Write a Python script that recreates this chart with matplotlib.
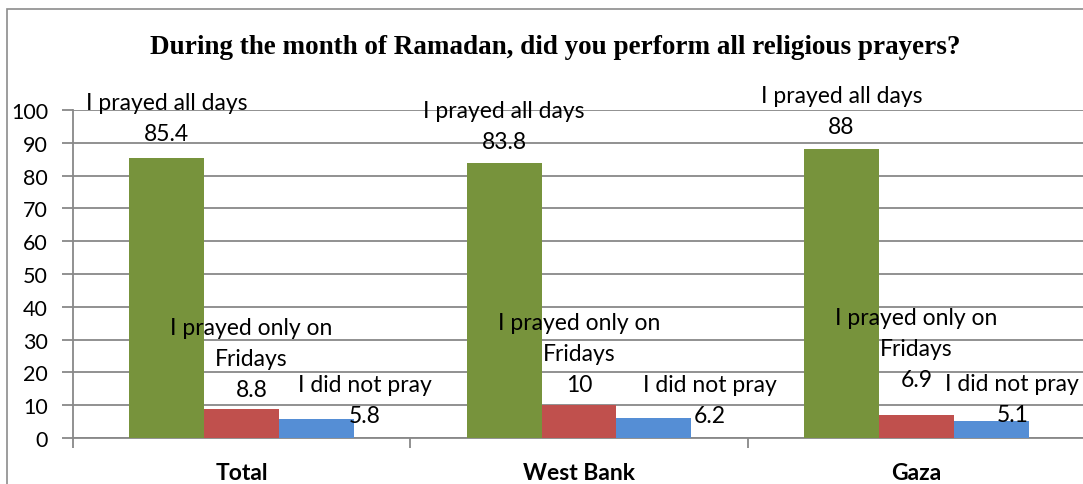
import matplotlib
matplotlib.use("Agg")
import matplotlib.pyplot as plt
from matplotlib.patches import Rectangle
import numpy as np

# ---- data ----
categories = ["Total", "West Bank", "Gaza"]
series_names = ["I prayed all days", "I prayed only on\nFridays", "I did not pray"]
all_days = [85.4, 83.8, 88]
only_fridays = [8.8, 10, 6.9]
did_not_pray = [5.8, 6.2, 5.1]
value_text = [["85.4", "83.8", "88"], ["8.8", "10", "6.9"], ["5.8", "6.2", "5.1"]]
y_ticks = [0, 10, 20, 30, 40, 50, 60, 70, 80, 90, 100]
title = "During the month of Ramadan, did you perform all religious prayers?"

# label offsets in pixels (dx, dy of value line centre above bar top), per series per category
label_offsets = [
    [(0, 24), (0, 22), (0, 23)],
    [(10, 20), (0, 21), (0, 36)],
    [(48, 3), (56, 2), (21, 7)],
]

colors = ["#77933C", "#C0504D", "#558ED5"]
grid_color = "#888888"

W, H = 1083, 485
fig = plt.figure(figsize=(W / 100, H / 100), dpi=100)

# outer chart border
fig.patches.append(Rectangle((7 / W, -0.1), 1.2, (485 - 10) / H + 0.1, transform=fig.transFigure,
                             fill=False, edgecolor="#8c8c8c", linewidth=1.2, clip_on=False))

left, right, top, bottom = 73, 1085, 111, 439
ax = fig.add_axes([left / W, (H - bottom) / H, (right - left) / W, (bottom - top) / H])

series = [all_days, only_fridays, did_not_pray]
x = np.arange(len(categories))
bw = 0.222
offs = [-bw, 0, bw]

label_font = "Lato"
fs = 16.5

for i, vals in enumerate(series):
    bars = ax.bar(x + offs[i], vals, width=bw, color=colors[i], zorder=3, linewidth=0)
    lines = series_names[i].split("\n")
    for j, b in enumerate(bars):
        cx = b.get_x() + b.get_width() / 2
        h = b.get_height()
        dx, dy = label_offsets[i][j]
        ax.annotate(value_text[i][j], (cx, h), xytext=(dx, dy), textcoords="offset pixels",
                    ha="center", va="center", fontsize=fs, family=label_font, zorder=5,
                    annotation_clip=False)
        for k, ln in enumerate(reversed(lines)):
            ax.annotate(ln, (cx, h), xytext=(dx, dy + 31 * (k + 1)), textcoords="offset pixels",
                        ha="center", va="center", fontsize=fs, family=label_font, zorder=5,
                        annotation_clip=False)

ax.set_xlim(-0.5, len(categories) - 0.5)
ax.set_ylim(0, 100)
ax.set_yticks(y_ticks)
ax.set_yticklabels([str(t) for t in y_ticks], fontsize=15.5, family=label_font)
ax.yaxis.grid(True, color=grid_color, linewidth=1.3, zorder=0)
ax.set_axisbelow(True)

ax.set_xticks(np.arange(len(categories) + 1) - 0.5)
ax.set_xticklabels([])
ax.set_xticks(x, minor=True)
ax.set_xticklabels(categories, minor=True, fontsize=16.5, family=label_font, fontweight="bold")
ax.tick_params(axis="x", which="major", length=7, color=grid_color, width=1.3, direction="out")
ax.tick_params(axis="x", which="minor", length=0, pad=17)
ax.tick_params(axis="y", length=8, color=grid_color, width=1.3, pad=10)

for s in ["top", "right"]:
    ax.spines[s].set_visible(False)
for s in ["left", "bottom"]:
    ax.spines[s].set_color(grid_color)
    ax.spines[s].set_linewidth(1.3)

fig.text(555 / W, 1 - 47 / H, title, ha="center", va="center", fontsize=19.5,
         family="Liberation Serif", fontweight="bold")

fig.savefig("out.png", dpi=100)
